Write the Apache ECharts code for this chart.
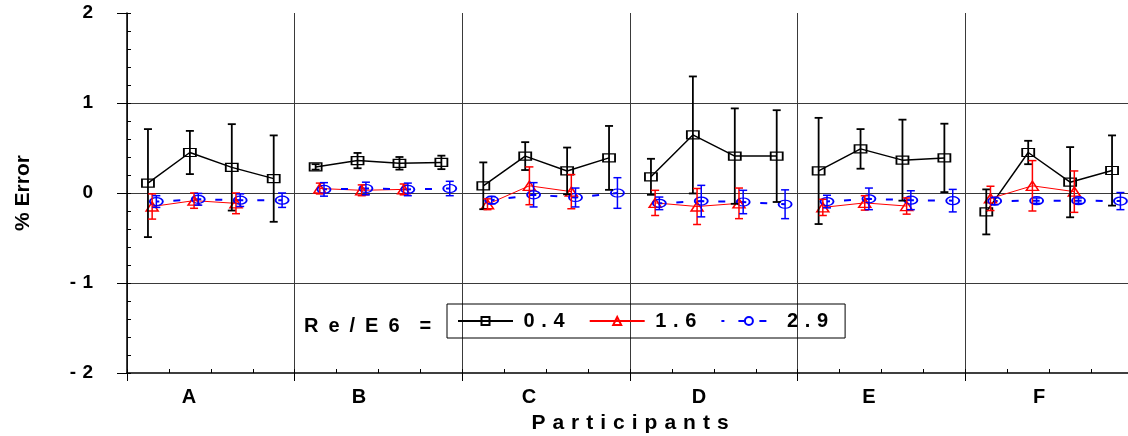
<!DOCTYPE html>
<html>
<head>
<meta charset="utf-8">
<script src="https://cdn.jsdelivr.net/npm/echarts@6/dist/echarts.min.js"></script>
<style>
html,body{margin:0;padding:0;background:#fff;}
#chart{width:1128px;height:436px;}
</style>
</head>
<body>
<div id="chart"></div>
<script>
// ---- data ----
const categories = ['A', 'B', 'C', 'D', 'E', 'F'];
const yTicks = [-2, -1, 0, 1, 2];
const seriesNames = ['0.4', '1.6', '2.9'];

// Re/E6 = 0.4 (4 points per participant)
const re04 = [
  [0.11, 0.45, 0.285, 0.16],
  [0.29, 0.36, 0.33, 0.34],
  [0.08, 0.41, 0.245, 0.39],
  [0.18, 0.645, 0.41, 0.41],
  [0.245, 0.49, 0.365, 0.39],
  [-0.21, 0.45, 0.12, 0.25]
];
const re04Err = [
  [0.6, 0.24, 0.48, 0.48],
  [0.03, 0.085, 0.07, 0.075],
  [0.26, 0.155, 0.26, 0.355],
  [0.2, 0.65, 0.53, 0.51],
  [0.59, 0.22, 0.45, 0.38],
  [0.25, 0.13, 0.39, 0.39]
];
// Re/E6 = 1.6 (3 points per participant)
const re16 = [
  [-0.15, -0.085, -0.115],
  [0.05, 0.03, 0.04],
  [-0.125, 0.08, 0.015],
  [-0.11, -0.15, -0.115],
  [-0.16, -0.11, -0.145],
  [-0.06, 0.08, 0.015]
];
const re16Err = [
  [0.14, 0.085, 0.115],
  [0.06, 0.06, 0.06],
  [0.06, 0.21, 0.19],
  [0.14, 0.2, 0.17],
  [0.09, 0.08, 0.09],
  [0.135, 0.28, 0.23]
];
// Re/E6 = 2.9 (4 points per participant)
const re29 = [
  [-0.095, -0.07, -0.08, -0.08],
  [0.04, 0.05, 0.04, 0.05],
  [-0.08, -0.02, -0.05, 0.0],
  [-0.115, -0.09, -0.1, -0.125],
  [-0.095, -0.065, -0.08, -0.085],
  [-0.09, -0.085, -0.085, -0.09]
];
const re29Err = [
  [0.065, 0.065, 0.07, 0.08],
  [0.075, 0.07, 0.07, 0.08],
  [0.04, 0.135, 0.105, 0.17],
  [0.07, 0.175, 0.13, 0.16],
  [0.07, 0.12, 0.105, 0.125],
  [0.04, 0.03, 0.03, 0.095]
];

// ---- build series data ----
const SLOTS = 4; // sub-positions per participant
function linePoints(vals, shift) {
  const out = [];
  vals.forEach((grp, g) => {
    grp.forEach((v, i) => out.push([g * SLOTS + i + shift, v]));
    out.push(null); // break line between participants
  });
  return out;
}
function errPoints(vals, errs, shift) {
  const out = [];
  vals.forEach((grp, g) => {
    grp.forEach((v, i) => out.push([g * SLOTS + i + shift, v - errs[g][i], v + errs[g][i]]));
  });
  return out;
}
function errRender(color, lw) {
  return function (params, api) {
    const x = api.value(0);
    const lo = api.coord([x, api.value(1)]);
    const hi = api.coord([x, api.value(2)]);
    const w = 4;
    const st = { stroke: color, lineWidth: lw };
    return {
      type: 'group',
      children: [
        { type: 'line', shape: { x1: hi[0], y1: hi[1], x2: lo[0], y2: lo[1] }, style: st },
        { type: 'line', shape: { x1: hi[0] - w, y1: hi[1], x2: hi[0] + w, y2: hi[1] }, style: st },
        { type: 'line', shape: { x1: lo[0] - w, y1: lo[1], x2: lo[0] + w, y2: lo[1] }, style: st }
      ]
    };
  };
}
const SP = '\u2004';
const EN = '\u2002';
const spaced = (s, sep) => s.split('').join(sep || SP);
const FONT = 'Liberation Sans, Arial, sans-serif';

const chart = echarts.init(document.getElementById('chart'), null, { renderer: 'canvas' });
chart.setOption({
  animation: false,
  backgroundColor: '#fff',
  title: {
    text: spaced('Re/E6', EN) + EN + EN + '=',
    left: 304, top: 316, padding: 0,
    textStyle: { fontFamily: FONT, fontWeight: 'bold', fontSize: 20, color: '#000' }
  },
  legend: {
    data: seriesNames,
    left: 447, top: 304,
    padding: [7, 17, 7, 10],
    itemWidth: 55, itemHeight: 10, itemGap: 24,
    borderColor: '#000', borderWidth: 1,
    formatter: n => ' ' + spaced(n),
    textStyle: { fontFamily: FONT, fontWeight: 'bold', fontSize: 20, color: '#000' }
  },
  grid: [
    { left: 127, top: 13, width: 1006, height: 360, containLabel: false, outerBoundsMode: 'none' },
    { left: 104, top: 13, width: 1020, height: 360, containLabel: false, outerBoundsMode: 'none', show: false }
  ],
  xAxis: [
    {
      type: 'value', min: 0, max: 24, interval: 4, position: 'bottom', gridIndex: 0,
      axisLine: { show: true, onZero: false, lineStyle: { color: '#000', width: 1.5 } },
      axisTick: { show: true, length: 8, lineStyle: { color: '#000', width: 1 } },
      axisLabel: { show: false },
      splitLine: { show: true, lineStyle: { color: '#3a3a3a', width: 1 } },
      name: spaced('Participants'), nameLocation: 'middle', nameGap: 40,
      nameTextStyle: { fontFamily: FONT, fontWeight: 'bold', fontSize: 21, color: '#000' }
    },
    {
      type: 'value', min: 0, max: 24, interval: 1, position: 'bottom', gridIndex: 0,
      axisLine: { show: false, onZero: false },
      axisTick: { show: true, inside: true, length: 4, lineStyle: { color: '#000', width: 1 } },
      axisLabel: { show: false },
      splitLine: { show: false }
    },
    {
      type: 'category', data: categories, position: 'bottom', gridIndex: 1,
      axisLine: { show: false, onZero: false },
      axisTick: { show: false },
      splitLine: { show: false },
      axisLabel: { margin: 14, fontFamily: FONT, fontWeight: 'bold', fontSize: 20, color: '#000' }
    }
  ],
  yAxis: [
    {
      type: 'value', min: yTicks[0], max: yTicks[yTicks.length - 1], interval: 1, position: 'left', gridIndex: 0,
      axisLine: { show: true, onZero: false, lineStyle: { color: '#000', width: 1.5 } },
      axisTick: { show: true, length: 10, lineStyle: { color: '#000', width: 1 } },
      axisLabel: {
        margin: 34, fontFamily: FONT, fontWeight: 'bold', fontSize: 19, color: '#000',
        formatter: v => (v < 0 ? '-' + SP + Math.abs(v) : String(v))
      },
      splitLine: { show: true, showMaxLine: false, showMinLine: false, lineStyle: { color: '#3a3a3a', width: 1 } },
      name: '% Error', nameLocation: 'middle', nameGap: 93,
      nameTextStyle: { fontFamily: FONT, fontWeight: 'bold', fontSize: 21, color: '#000' }
    },
    {
      type: 'value', min: -2, max: 2, interval: 0.2, position: 'left', gridIndex: 0,
      axisLine: { show: false, onZero: false },
      axisTick: { show: true, inside: true, length: 4, lineStyle: { color: '#000', width: 1 } },
      axisLabel: { show: false },
      splitLine: { show: false }
    },
    {
      type: 'value', gridIndex: 1, show: false, min: -2, max: 2
    }
  ],
  series: [
    {
      name: '0.4', type: 'line', data: linePoints(re04, 0.5), connectNulls: false,
      symbol: 'rect', symbolSize: [12, 8], z: 3,
      lineStyle: { color: '#000', width: 1.5 },
      itemStyle: { color: 'rgba(255,255,255,0)', borderColor: '#000', borderWidth: 1.5 }
    },
    {
      name: '1.6', type: 'line', data: linePoints(re16, 0.6), connectNulls: false,
      symbol: 'triangle', symbolSize: [12, 9], z: 3,
      lineStyle: { color: '#ff0000', width: 1 },
      itemStyle: { color: 'rgba(255,255,255,0)', borderColor: '#ff0000', borderWidth: 1.5 }
    },
    {
      name: '2.9', type: 'line', data: linePoints(re29, 0.7), connectNulls: false,
      symbol: 'circle', symbolSize: [13, 8], z: 3,
      lineStyle: { color: '#0000ff', width: 2, type: [7, 14], dashOffset: 4 },
      itemStyle: { color: 'rgba(255,255,255,0)', borderColor: '#0000ff', borderWidth: 1.5 }
    },
    {
      name: '0.4 err', type: 'custom', data: errPoints(re04, re04Err, 0.5), z: 4,
      encode: { x: 0, y: [1, 2] }, renderItem: errRender('#000', 1.8)
    },
    {
      name: '1.6 err', type: 'custom', data: errPoints(re16, re16Err, 0.6), z: 4,
      encode: { x: 0, y: [1, 2] }, renderItem: errRender('#ff0000', 1.5)
    },
    {
      name: '2.9 err', type: 'custom', data: errPoints(re29, re29Err, 0.7), z: 4,
      encode: { x: 0, y: [1, 2] }, renderItem: errRender('#0000ff', 1.5)
    }
  ]
});
</script>
</body>
</html>
